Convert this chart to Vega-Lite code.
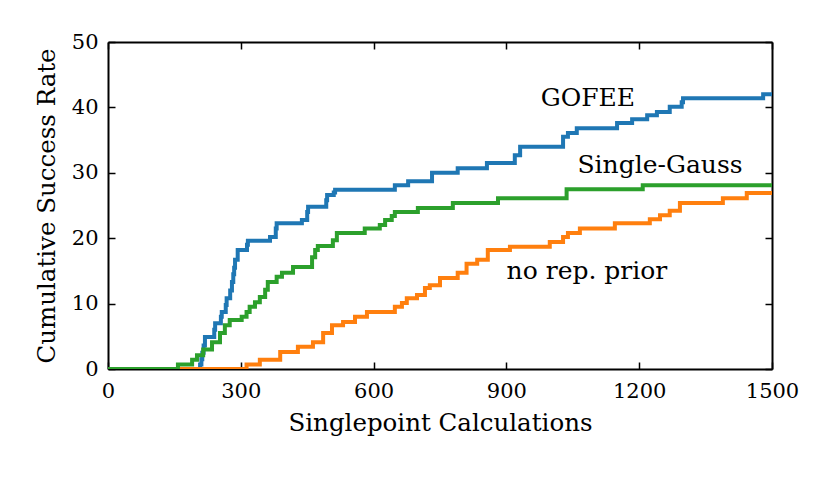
{
  "$schema": "https://vega.github.io/schema/vega-lite/v6.json",
  "width": 664,
  "height": 327,
  "autosize": {"type": "none"},
  "padding": {"left": 108, "top": 42, "right": 58, "bottom": 109},
  "background": "white",
  "config": {
    "font": "DejaVu Serif",
    "view": {"stroke": null},
    "axis": {
      "domainColor": "black", "domainWidth": 2, "tickColor": "black", "tickWidth": 1.5,
      "tickSize": -7, "grid": false, "labelFont": "DejaVu Serif", "labelFontSize": 21,
      "labelColor": "black", "titleFont": "DejaVu Serif", "titleFontSize": 24.5,
      "titleFontWeight": "normal", "titleColor": "black", "zindex": 1
    }
  },
  "datasets": {
    "curves": [
      {"series": "GOFEE", "x": 0, "y": 0},
      {"series": "GOFEE", "x": 208, "y": 0.7},
      {"series": "GOFEE", "x": 211, "y": 1.5},
      {"series": "GOFEE", "x": 213, "y": 2.5},
      {"series": "GOFEE", "x": 216, "y": 3.6},
      {"series": "GOFEE", "x": 219, "y": 4.9},
      {"series": "GOFEE", "x": 240, "y": 6.0},
      {"series": "GOFEE", "x": 242, "y": 7.0},
      {"series": "GOFEE", "x": 255, "y": 8.0},
      {"series": "GOFEE", "x": 257, "y": 8.7},
      {"series": "GOFEE", "x": 266, "y": 9.8},
      {"series": "GOFEE", "x": 268, "y": 10.8},
      {"series": "GOFEE", "x": 276, "y": 12.0},
      {"series": "GOFEE", "x": 280, "y": 13.3},
      {"series": "GOFEE", "x": 283, "y": 14.5},
      {"series": "GOFEE", "x": 285, "y": 15.5},
      {"series": "GOFEE", "x": 287, "y": 16.7},
      {"series": "GOFEE", "x": 293, "y": 18.2},
      {"series": "GOFEE", "x": 314, "y": 19.0},
      {"series": "GOFEE", "x": 316, "y": 19.6},
      {"series": "GOFEE", "x": 366, "y": 20.2},
      {"series": "GOFEE", "x": 379, "y": 21.5},
      {"series": "GOFEE", "x": 381, "y": 22.3},
      {"series": "GOFEE", "x": 438, "y": 22.8},
      {"series": "GOFEE", "x": 450, "y": 24.0},
      {"series": "GOFEE", "x": 452, "y": 24.8},
      {"series": "GOFEE", "x": 493, "y": 25.8},
      {"series": "GOFEE", "x": 495, "y": 26.6},
      {"series": "GOFEE", "x": 510, "y": 27.0},
      {"series": "GOFEE", "x": 513, "y": 27.4},
      {"series": "GOFEE", "x": 648, "y": 28.1},
      {"series": "GOFEE", "x": 678, "y": 28.7},
      {"series": "GOFEE", "x": 732, "y": 30.0},
      {"series": "GOFEE", "x": 790, "y": 30.7},
      {"series": "GOFEE", "x": 856, "y": 31.5},
      {"series": "GOFEE", "x": 919, "y": 32.7},
      {"series": "GOFEE", "x": 931, "y": 34.0},
      {"series": "GOFEE", "x": 1028, "y": 35.5},
      {"series": "GOFEE", "x": 1039, "y": 36.1},
      {"series": "GOFEE", "x": 1059, "y": 36.8},
      {"series": "GOFEE", "x": 1150, "y": 37.6},
      {"series": "GOFEE", "x": 1184, "y": 38.2},
      {"series": "GOFEE", "x": 1218, "y": 38.8},
      {"series": "GOFEE", "x": 1240, "y": 39.3},
      {"series": "GOFEE", "x": 1269, "y": 40.1},
      {"series": "GOFEE", "x": 1296, "y": 40.8},
      {"series": "GOFEE", "x": 1299, "y": 41.4},
      {"series": "GOFEE", "x": 1480, "y": 42.0},
      {"series": "GOFEE", "x": 1500, "y": 42.0},
      {"series": "no rep. prior", "x": 0, "y": 0},
      {"series": "no rep. prior", "x": 313, "y": 0.7},
      {"series": "no rep. prior", "x": 343, "y": 1.4},
      {"series": "no rep. prior", "x": 389, "y": 2.6},
      {"series": "no rep. prior", "x": 429, "y": 3.4},
      {"series": "no rep. prior", "x": 463, "y": 4.1},
      {"series": "no rep. prior", "x": 486, "y": 5.5},
      {"series": "no rep. prior", "x": 506, "y": 6.7},
      {"series": "no rep. prior", "x": 531, "y": 7.2},
      {"series": "no rep. prior", "x": 558, "y": 8.0},
      {"series": "no rep. prior", "x": 585, "y": 8.7},
      {"series": "no rep. prior", "x": 648, "y": 9.5},
      {"series": "no rep. prior", "x": 664, "y": 10.1},
      {"series": "no rep. prior", "x": 675, "y": 10.8},
      {"series": "no rep. prior", "x": 698, "y": 11.3},
      {"series": "no rep. prior", "x": 716, "y": 12.4},
      {"series": "no rep. prior", "x": 727, "y": 12.8},
      {"series": "no rep. prior", "x": 750, "y": 13.9},
      {"series": "no rep. prior", "x": 790, "y": 14.7},
      {"series": "no rep. prior", "x": 810, "y": 16.1},
      {"series": "no rep. prior", "x": 834, "y": 16.7},
      {"series": "no rep. prior", "x": 858, "y": 18.2},
      {"series": "no rep. prior", "x": 908, "y": 18.7},
      {"series": "no rep. prior", "x": 998, "y": 19.4},
      {"series": "no rep. prior", "x": 1028, "y": 20.2},
      {"series": "no rep. prior", "x": 1039, "y": 20.8},
      {"series": "no rep. prior", "x": 1066, "y": 21.5},
      {"series": "no rep. prior", "x": 1145, "y": 22.3},
      {"series": "no rep. prior", "x": 1224, "y": 22.9},
      {"series": "no rep. prior", "x": 1247, "y": 23.5},
      {"series": "no rep. prior", "x": 1269, "y": 24.2},
      {"series": "no rep. prior", "x": 1292, "y": 25.4},
      {"series": "no rep. prior", "x": 1389, "y": 26.1},
      {"series": "no rep. prior", "x": 1443, "y": 26.9},
      {"series": "no rep. prior", "x": 1500, "y": 26.9},
      {"series": "Single-Gauss", "x": 0, "y": 0},
      {"series": "Single-Gauss", "x": 158, "y": 0.7},
      {"series": "Single-Gauss", "x": 190, "y": 1.4},
      {"series": "Single-Gauss", "x": 201, "y": 2.1},
      {"series": "Single-Gauss", "x": 215, "y": 3.0},
      {"series": "Single-Gauss", "x": 235, "y": 4.1},
      {"series": "Single-Gauss", "x": 253, "y": 5.5},
      {"series": "Single-Gauss", "x": 264, "y": 6.7},
      {"series": "Single-Gauss", "x": 275, "y": 7.5},
      {"series": "Single-Gauss", "x": 302, "y": 8.0},
      {"series": "Single-Gauss", "x": 313, "y": 8.7},
      {"series": "Single-Gauss", "x": 320, "y": 9.5},
      {"series": "Single-Gauss", "x": 332, "y": 10.2},
      {"series": "Single-Gauss", "x": 343, "y": 11.0},
      {"series": "Single-Gauss", "x": 355, "y": 12.1},
      {"series": "Single-Gauss", "x": 361, "y": 13.3},
      {"series": "Single-Gauss", "x": 381, "y": 14.1},
      {"series": "Single-Gauss", "x": 393, "y": 14.7},
      {"series": "Single-Gauss", "x": 418, "y": 15.6},
      {"series": "Single-Gauss", "x": 461, "y": 17.1},
      {"series": "Single-Gauss", "x": 468, "y": 18.2},
      {"series": "Single-Gauss", "x": 474, "y": 18.8},
      {"series": "Single-Gauss", "x": 508, "y": 19.7},
      {"series": "Single-Gauss", "x": 517, "y": 20.8},
      {"series": "Single-Gauss", "x": 580, "y": 21.5},
      {"series": "Single-Gauss", "x": 614, "y": 22.0},
      {"series": "Single-Gauss", "x": 626, "y": 22.8},
      {"series": "Single-Gauss", "x": 641, "y": 23.4},
      {"series": "Single-Gauss", "x": 648, "y": 24.0},
      {"series": "Single-Gauss", "x": 700, "y": 24.6},
      {"series": "Single-Gauss", "x": 779, "y": 25.4},
      {"series": "Single-Gauss", "x": 881, "y": 26.1},
      {"series": "Single-Gauss", "x": 1036, "y": 27.5},
      {"series": "Single-Gauss", "x": 1208, "y": 28.1},
      {"series": "Single-Gauss", "x": 1500, "y": 28.1}
    ],
    "labels": [
      {"label": "GOFEE", "x": 1084, "y": 41.4},
      {"label": "Single-Gauss", "x": 1247, "y": 31.2},
      {"label": "no rep. prior", "x": 1082, "y": 15.0}
    ]
  },
  "resolve": {"axis": {"x": "independent", "y": "independent"}},
  "layer": [
    {
      "data": {"name": "curves"},
      "mark": {"type": "line", "interpolate": "step-after", "strokeWidth": 4, "clip": true},
      "encoding": {
        "x": {"field": "x", "type": "quantitative", "scale": {"domain": [0, 1500], "nice": false, "zero": false},
              "axis": {"orient": "bottom", "values": [0, 300, 600, 900, 1200, 1500], "format": "d", "title": "Singlepoint Calculations", "labelPadding": 18, "titlePadding": 10, "labelFlush": false}},
        "y": {"field": "y", "type": "quantitative", "scale": {"domain": [0, 50], "nice": false},
              "axis": {"orient": "left", "values": [0, 10, 20, 30, 40, 50], "format": "d", "title": "Cumulative Success Rate", "labelPadding": 17, "titlePadding": 12, "labelFlush": false}},
        "color": {"field": "series", "type": "nominal",
                  "scale": {"domain": ["GOFEE", "Single-Gauss", "no rep. prior"], "range": ["#1f77b4", "#2ca02c", "#ff7f0e"]},
                  "legend": null},
        "order": {"field": "x", "type": "quantitative"}
      }
    },
    {
      "data": {"name": "curves"},
      "mark": {"type": "line", "opacity": 0},
      "encoding": {
        "x": {"field": "x", "type": "quantitative", "scale": {"domain": [0, 1500], "nice": false, "zero": false},
              "axis": {"orient": "top", "values": [0, 300, 600, 900, 1200, 1500], "labels": false, "title": null}},
        "y": {"field": "y", "type": "quantitative", "scale": {"domain": [0, 50], "nice": false},
              "axis": {"orient": "right", "values": [0, 10, 20, 30, 40, 50], "labels": false, "title": null}},
        "detail": {"field": "series"}
      }
    },
    {
      "data": {"name": "labels"},
      "mark": {"type": "text", "fontSize": 25, "font": "DejaVu Serif", "color": "black", "align": "center", "baseline": "middle"},
      "encoding": {
        "x": {"field": "x", "type": "quantitative", "axis": null},
        "y": {"field": "y", "type": "quantitative", "axis": null},
        "text": {"field": "label"}
      }
    }
  ]
}
